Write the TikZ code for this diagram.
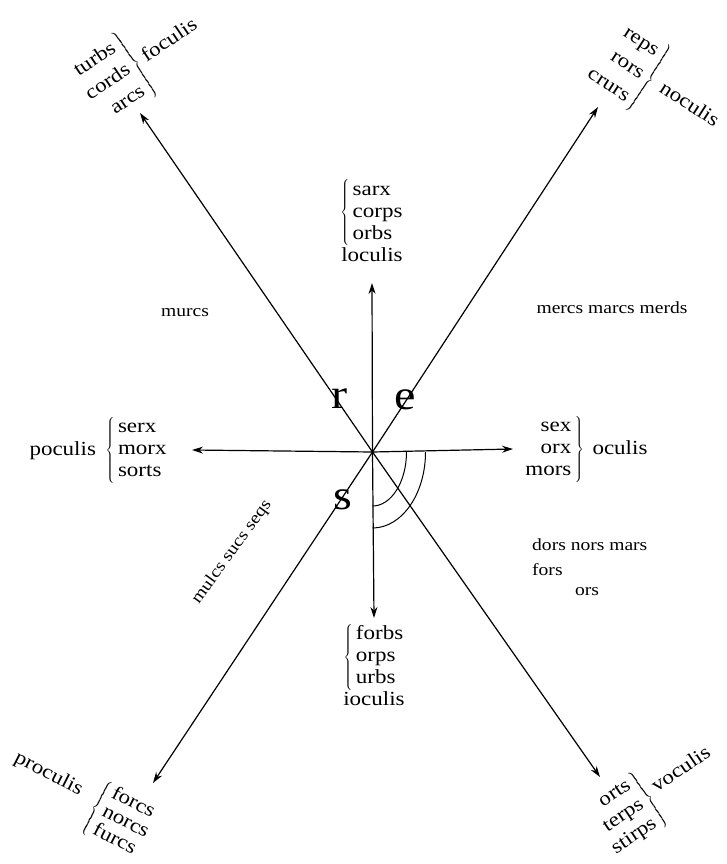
\documentclass[tikz,border=0pt]{standalone}
\usepackage{fontspec}
\setmainfont{Liberation Serif}[FakeStretch=1.15]
\usetikzlibrary{arrows.meta,positioning}

\newcommand{\leftgroup}[1]{$\left\{\,\begin{tabular}{@{}l@{}}#1\end{tabular}\right.$}
\newcommand{\rightgroup}[1]{$\left.\begin{tabular}{@{}r@{}}#1\end{tabular}\,\right\}$}

\begin{document}
\begin{tikzpicture}[x=1pt, y=-1pt,
    arr/.style={-{Stealth[length=11pt,width=7pt]}, line width=1.2pt},
    word/.style={font=\fontsize{20}{22}\selectfont, inner sep=0pt},
    turned/.style={word, font=\fontsize{20}{#1}\selectfont},
    note/.style={font=\fontsize{17}{20}\selectfont, inner sep=0pt},
    letter/.style={font=\fontsize{42}{42}\selectfont, inner sep=0pt}
  ]
  \useasboundingbox (0,0) rectangle (727,864);
  \coordinate (O) at (372.5,452);
  % ends of the eight arrows
  \coordinate (tipN) at (372,283);
  \coordinate (tipS) at (374,618);
  \coordinate (tipW) at (192,450);
  \coordinate (tipE) at (513,449);
  \coordinate (tipNW) at (140,113);
  \coordinate (tipNE) at (598,107);
  \coordinate (tipSW) at (153,783);
  \coordinate (tipSE) at (600,777);
  \foreach \t in {N,S,W,E,NW,NE,SW,SE}
    \draw[arr] (O) -- (tip\t);

  % the two arcs
  \draw[line width=1pt] (O) ++(34,0) arc[start angle=0, end angle=90, x radius=34, y radius=54];
  \draw[line width=1pt] (O) ++(53,0) arc[start angle=0, end angle=90, x radius=53, y radius=76];

  % groups of words
  \node[word, above=15pt of tipN] (nord) {\begin{tabular}{@{}c@{}}\leftgroup{sarx\\corps\\orbs}\\loculis\end{tabular}};
  \node[word, below=6pt of tipS] (sud) {\begin{tabular}{@{}c@{}}\leftgroup{forbs\\orps\\urbs}\\ioculis\end{tabular}};
  \node[word, left=24pt of tipW] (ouest) {poculis\hspace{4pt} \leftgroup{serx\\morx\\sorts}};
  \node[word, right=11pt of tipE] (est) {\rightgroup{sex\\orx\\mors}\hspace{3pt} oculis};
  \node[turned=26, rotate=34] (nordouest) at (141,60) {\rightgroup{turbs\\cords\\arcs} foculis};
  \node[turned=27, rotate=-33] (nordest) at (660,86) {\rightgroup{reps\\rors\\crurs}\hspace{4pt} noculis};
  \node[turned=20.5, rotate=-27] (sudouest) at (80,800) {\raisebox{9pt}{proculis}\hspace{16pt}\leftgroup{forcs\\norcs\\furcs}};
  \node[turned=23, rotate=34] (sudest) at (656,794) {\rightgroup{orts\\terps\\stirps} \raisebox{6pt}{voculis}};

  % loose words
  \node[note] (murcs) at (185,313) {murcs};
  \node[note] (mercs) at (612,308) {mercs marcs merds};
  \node[note, rotate=54] (mulcs) at (232,552) {mulcs sucs seqs};
  \node[note, anchor=base west] (dors) at (532,550) {dors nors mars};
  \node[note, anchor=base west] (fors) at (532,575) {fors};
  \node[note, anchor=base west] (ors) at (575,595) {ors};

  % letters
  \node[letter] (r) at (340,399) {r};
  \node[letter] (e) at (405,400) {e};
  \node[letter] (s) at (343,500) {s};
\end{tikzpicture}
\end{document}
